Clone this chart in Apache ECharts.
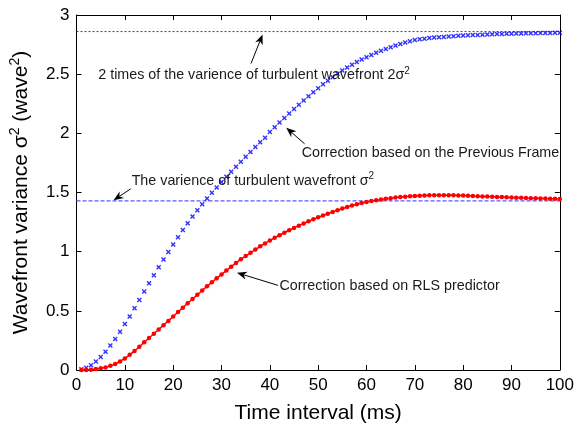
<!DOCTYPE html>
<html>
<head>
<meta charset="utf-8">
<script src="https://cdn.jsdelivr.net/npm/echarts@6/dist/echarts.min.js"></script>
<style>
  html, body { margin: 0; padding: 0; background: #ffffff; }
  #chart { width: 577px; height: 429px; }
</style>
</head>
<body>
<div id="chart"></div>
<script>
// Time steps (ms)
const timeMs = Array.from({ length: 100 }, (_, i) => i + 1);

// Residual wavefront variance (wave^2) when correcting with the previous frame
const previousFrame = [
  0.006, 0.020, 0.040, 0.072, 0.110, 0.155, 0.207, 0.263, 0.324, 0.388,
  0.453, 0.522, 0.592, 0.663, 0.733, 0.801, 0.868, 0.934, 0.997, 1.060,
  1.122, 1.183, 1.241, 1.297, 1.349, 1.400, 1.449, 1.497, 1.543, 1.589,
  1.633, 1.676, 1.718, 1.760, 1.802, 1.843, 1.884, 1.924, 1.963, 2.012,
  2.052, 2.092, 2.130, 2.168, 2.205, 2.242, 2.278, 2.313, 2.348, 2.381,
  2.414, 2.445, 2.475, 2.503, 2.530, 2.556, 2.580, 2.603, 2.624, 2.644,
  2.663, 2.680, 2.697, 2.713, 2.728, 2.742, 2.755, 2.767, 2.778, 2.788,
  2.795, 2.800, 2.805, 2.809, 2.812, 2.815, 2.818, 2.821, 2.824, 2.826,
  2.828, 2.830, 2.832, 2.834, 2.836, 2.837, 2.839, 2.840, 2.841, 2.842,
  2.843, 2.844, 2.845, 2.846, 2.846, 2.847, 2.848, 2.848, 2.849, 2.850
];

// Residual wavefront variance (wave^2) when correcting with the RLS predictor
const rlsPredictor = [
  0.000, 0.001, 0.003, 0.008, 0.014, 0.022, 0.035, 0.051, 0.072, 0.098,
  0.128, 0.161, 0.197, 0.234, 0.270, 0.306, 0.342, 0.378, 0.415, 0.452,
  0.490, 0.527, 0.564, 0.600, 0.636, 0.672, 0.707, 0.741, 0.775, 0.808,
  0.840, 0.873, 0.905, 0.935, 0.963, 0.990, 1.018, 1.045, 1.070, 1.094,
  1.117, 1.139, 1.160, 1.181, 1.201, 1.220, 1.238, 1.256, 1.273, 1.290,
  1.306, 1.321, 1.336, 1.350, 1.364, 1.377, 1.390, 1.401, 1.411, 1.420,
  1.428, 1.435, 1.441, 1.447, 1.452, 1.457, 1.461, 1.465, 1.468, 1.471,
  1.473, 1.475, 1.476, 1.477, 1.477, 1.477, 1.477, 1.476, 1.475, 1.474,
  1.472, 1.471, 1.469, 1.467, 1.466, 1.464, 1.462, 1.461, 1.459, 1.458,
  1.456, 1.455, 1.453, 1.452, 1.451, 1.450, 1.449, 1.448, 1.447, 1.446
];

// Turbulent wavefront variance and its double
const sigma2 = 1.43;
const twoSigma2 = 2.86;

// Axis ranges and tick steps
const xRange = [0, 100];
const xStep = 10;
const yRange = [0, 3];
const yStep = 0.5;

// Text labels
const xTitle = 'Time interval (ms)';
const yTitle = 'Wavefront variance \u03c3{sup|2} (wave{sup|2})';
const noteTwoSigma = '2 times of the varience of turbulent wavefront 2\u03c3{sup|2}';
const notePrevious = 'Correction based on the Previous Frame';
const noteSigma = 'The varience of turbulent wavefront \u03c3{sup|2}';
const noteRls = 'Correction based on RLS predictor';

const FONT = "'Liberation Sans', Arial, Helvetica, sans-serif";

// Annotation placement in data units: text anchor (left, middle) and arrow tail -> head
const annotations = [
  { text: noteTwoSigma, at: [4.5, 2.49],  tail: [36.1, 2.59],  head: [38.5, 2.835] },
  { text: notePrevious, at: [46.6, 1.833], tail: [47.2, 1.911], head: [43.4, 2.047] },
  { text: noteSigma,    at: [11.4, 1.60],  tail: [11.2, 1.531], head: [7.66, 1.434] },
  { text: noteRls,      at: [42.0, 0.707], tail: [41.7, 0.715], head: [33.2, 0.822] }
];

const pair = (xs, ys) => xs.map((x, i) => [x, ys[i]]);
const xCross = 'path://M0,2L2,0L5,3L8,0L10,2L7,5L10,8L8,10L5,7L2,10L0,8L3,5Z';

const chart = echarts.init(document.getElementById('chart'), null, { renderer: 'canvas' });

const axisCommon = {
  type: 'value',
  axisLine: { show: true, onZero: false, lineStyle: { color: '#000', width: 1 } },
  axisTick: { show: true, inside: true, length: 5, lineStyle: { color: '#000', width: 1 } },
  splitLine: { show: false }
};

const option = {
  backgroundColor: '#ffffff',
  animation: false,
  grid: { left: 74, right: 11, top: 15, bottom: 50, containLabel: false },
  xAxis: [
    Object.assign({}, axisCommon, {
      min: xRange[0], max: xRange[1], interval: xStep, position: 'bottom',
      axisLabel: { show: true, margin: 7, color: '#000', fontSize: 17, fontFamily: FONT },
      name: xTitle, nameLocation: 'middle', nameGap: 33,
      nameTextStyle: { color: '#000', fontSize: 21, fontFamily: FONT }
    }),
    Object.assign({}, axisCommon, {
      min: xRange[0], max: xRange[1], interval: xStep, position: 'top',
      axisLabel: { show: false }
    })
  ],
  yAxis: [
    Object.assign({}, axisCommon, {
      min: yRange[0], max: yRange[1], interval: yStep, position: 'left',
      axisLabel: { show: true, margin: 7, color: '#000', fontSize: 17, fontFamily: FONT },
      name: yTitle, nameLocation: 'middle', nameGap: 40, nameRotate: 90,
      nameTextStyle: {
        color: '#000', fontSize: 21, fontFamily: FONT, lineHeight: 27,
        rich: { sup: { fontSize: 14, fontFamily: FONT, color: '#000', verticalAlign: 'top', lineHeight: 27 } }
      }
    }),
    Object.assign({}, axisCommon, {
      min: yRange[0], max: yRange[1], interval: yStep, position: 'right',
      axisLabel: { show: false }
    })
  ],
  series: [
    {
      name: '2sigma2', type: 'line', xAxisIndex: 0, yAxisIndex: 0,
      data: [[xRange[0], twoSigma2], [xRange[1], twoSigma2]],
      symbol: 'none', silent: true,
      lineStyle: { color: '#444444', width: 1, type: [2, 2] }, z: 1
    },
    {
      name: 'sigma2', type: 'line', xAxisIndex: 0, yAxisIndex: 0,
      data: [[xRange[0], sigma2], [xRange[1], sigma2]],
      symbol: 'none', silent: true,
      lineStyle: { color: '#5a5aff', width: 1.3, type: [4, 2] }, z: 1
    },
    {
      name: 'Previous Frame', type: 'scatter', xAxisIndex: 0, yAxisIndex: 0,
      data: pair(timeMs, previousFrame),
      symbol: xCross, symbolSize: 5,
      itemStyle: { color: '#0000ff' }, z: 3
    },
    {
      name: 'RLS predictor', type: 'line', xAxisIndex: 0, yAxisIndex: 0,
      data: pair(timeMs, rlsPredictor),
      symbol: 'circle', symbolSize: 4.5, showSymbol: true,
      itemStyle: { color: '#ff0000' },
      lineStyle: { color: '#ff0000', width: 1.5 }, z: 3
    }
  ]
};

chart.setOption(option);

// Annotation texts and arrows placed through the grid's coordinate system
const toPx = v => chart.convertToPixel({ gridIndex: 0 }, v);
const graphics = [];
annotations.forEach(a => {
  const p = toPx(a.at);
  graphics.push({
    type: 'text', x: p[0], y: p[1], z: 10, silent: true,
    style: {
      text: a.text, fill: '#1a1a1a', font: '14.3px ' + FONT,
      verticalAlign: 'middle', align: 'left', lineHeight: 18,
      rich: { sup: { fontSize: 10, fontFamily: FONT, fill: '#1a1a1a', verticalAlign: 'top', lineHeight: 18 } }
    }
  });
  const t = toPx(a.tail), h = toPx(a.head);
  const dx = h[0] - t[0], dy = h[1] - t[1];
  const len = Math.hypot(dx, dy);
  const ux = dx / len, uy = dy / len, nx = -uy, ny = ux;
  const headLen = 10, headHalf = 4, notch = 3;
  const base = [h[0] - ux * headLen, h[1] - uy * headLen];
  graphics.push({
    type: 'line', z: 10, silent: true,
    shape: { x1: t[0], y1: t[1], x2: base[0] + ux * notch, y2: base[1] + uy * notch },
    style: { stroke: '#000', lineWidth: 1 }
  });
  graphics.push({
    type: 'polygon', z: 10, silent: true,
    shape: { points: [
      h,
      [base[0] + nx * headHalf, base[1] + ny * headHalf],
      [base[0] + ux * notch, base[1] + uy * notch],
      [base[0] - nx * headHalf, base[1] - ny * headHalf]
    ] },
    style: { fill: '#000' }
  });
});
chart.setOption({ graphic: graphics });
</script>
</body>
</html>
